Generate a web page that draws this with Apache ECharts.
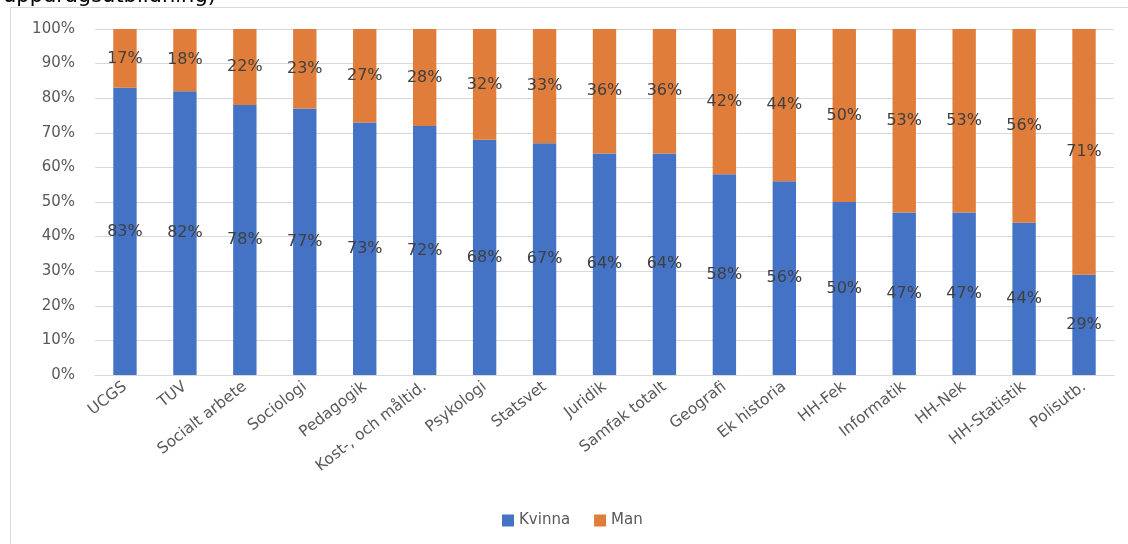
<!DOCTYPE html>
<html><head><meta charset="utf-8">
<script src="https://cdn.jsdelivr.net/npm/echarts@6/dist/echarts.min.js"></script>
<style>html,body{margin:0;padding:0;background:#fff}#c{width:1128px;height:544px}</style>
</head><body><div id="c"></div>
<script>
const categories = ["UCGS","TUV","Socialt arbete","Sociologi","Pedagogik","Kost-, och måltid.","Psykologi","Statsvet","Juridik","Samfak totalt","Geografi","Ek historia","HH-Fek","Informatik","HH-Nek","HH-Statistik","Polisutb."];
const kvinna = [83,82,78,77,73,72,68,67,64,64,58,56,50,47,47,44,29];
const man = [17,18,22,23,27,28,32,33,36,36,42,44,50,53,53,56,71];
const yTicks = ["0%","10%","20%","30%","40%","50%","60%","70%","80%","90%","100%"];
const titleText = "uppdragsutbildning)";

const font = "DejaVu Sans";
const chart = echarts.init(document.getElementById('c'));
const lbl = {show:true, position:'inside', color:'#404040', fontSize:16, fontFamily:font, formatter: p => p.value + '%'};
chart.setOption({
  animation:false,
  textStyle:{fontFamily:font},
  title:{text:titleText, left:-2, top:-19, textStyle:{fontSize:21, fontWeight:'normal', color:'#000', fontFamily:font}},
  graphic:[{type:'rect', shape:{x:10.5,y:7.5,width:1130,height:560}, style:{fill:'none', stroke:'#d9d9d9', lineWidth:1}, z:-1}],
  grid:{left:95, right:14, top:29, bottom:169, containLabel:false},
  legend:{bottom:11, left:497, itemWidth:12, itemHeight:12, itemGap:24, icon:'rect',
    textStyle:{color:'#595959', fontSize:15, fontFamily:font}, data:['Kvinna','Man']},
  xAxis:{type:'category', data:categories,
    axisLine:{lineStyle:{color:'#d9d9d9'}}, axisTick:{show:false},
    axisLabel:{rotate:38, color:'#595959', fontSize:15.5, fontFamily:font, interval:0, margin:10}},
  yAxis:{type:'value', min:0, max:100, interval:10,
    axisLine:{show:false}, axisTick:{show:false},
    splitLine:{lineStyle:{color:'#d9d9d9'}},
    axisLabel:{color:'#595959', fontSize:15, fontFamily:font, margin:20, formatter: v => yTicks[Math.round(v/10)]}},
  series:[
    {name:'Kvinna', type:'bar', stack:'t', data:kvinna, barWidth:'39%', itemStyle:{color:'#4472C4'}, label:lbl},
    {name:'Man', type:'bar', stack:'t', data:man, barWidth:'39%', itemStyle:{color:'#E07D3A'}, label:lbl}
  ]
});
</script></body></html>
